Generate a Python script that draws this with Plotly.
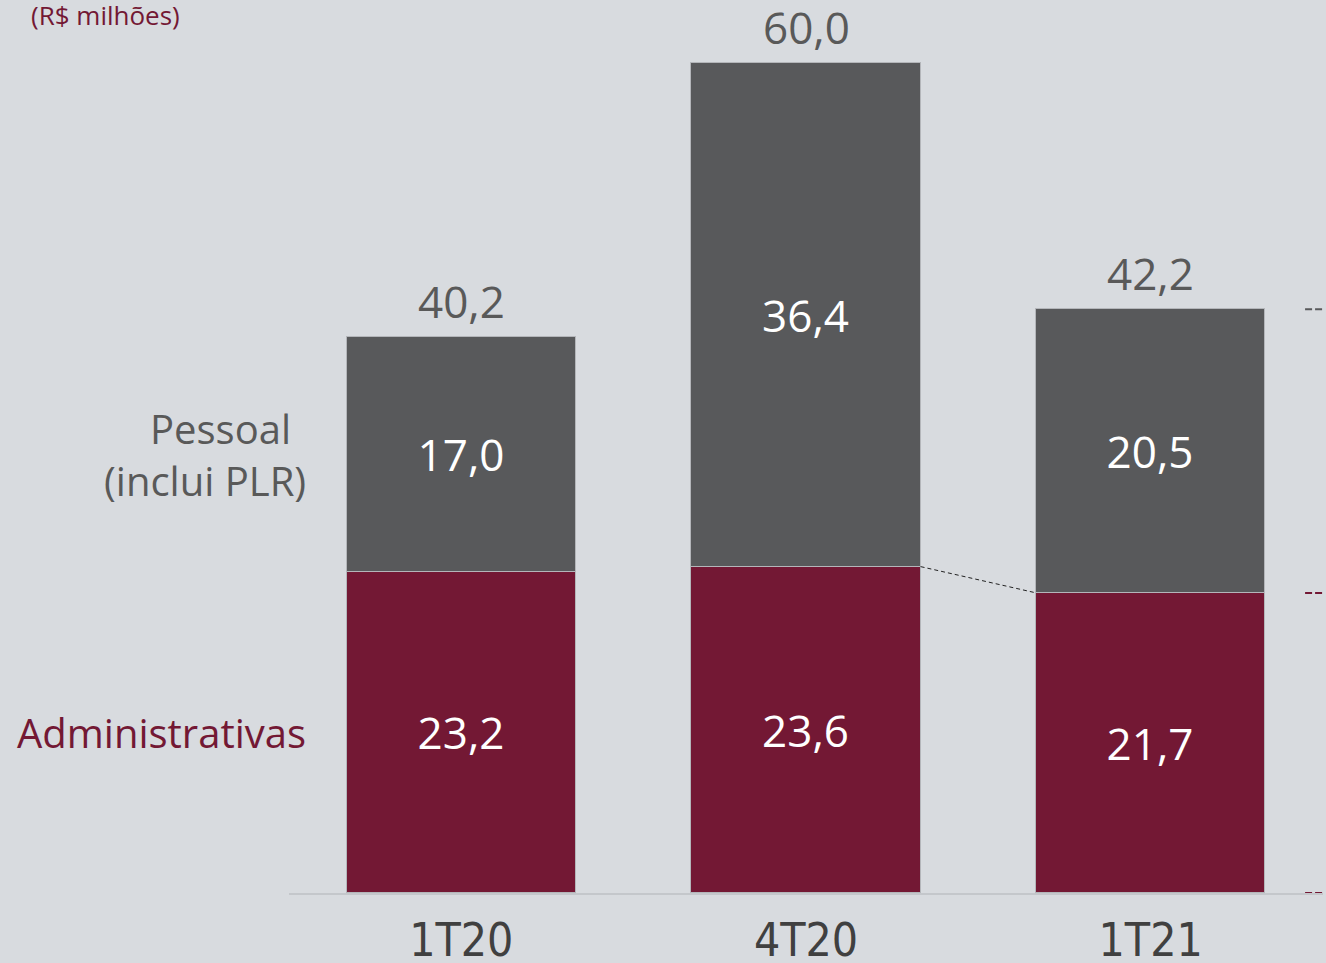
import plotly.graph_objects as go

categories = ["1T20", "4T20", "1T21"]
administrativas = [23.2, 23.6, 21.7]
pessoal = [17.0, 36.4, 20.5]
totals = [40.2, 60.0, 42.2]

def fmt(v):
    return f"{v:.1f}".replace(".", ",")

RED = "#731834"
GRAY = "#58595b"
BG = "#d8dbdf"
TXT = "#595959"
FONT = "Open Sans"

xs = list(range(len(categories)))
bw = 0.665

fig = go.Figure()
fig.add_trace(go.Bar(
    x=xs, y=administrativas, width=bw, marker=dict(color=RED, line=dict(color="#b4b6ba", width=1)),
    text=[fmt(v) for v in administrativas], textposition="inside", insidetextanchor="middle",
    textfont=dict(color="white", size=44, family=FONT), showlegend=False, cliponaxis=False))
fig.add_trace(go.Bar(
    x=xs, y=pessoal, width=bw, marker=dict(color=GRAY, line=dict(color="#b4b6ba", width=1)),
    text=[fmt(v) for v in pessoal], textposition="inside", insidetextanchor="middle",
    textfont=dict(color="white", size=44, family=FONT), showlegend=False, cliponaxis=False))

# connector between 4T20 and 1T21 Administrativas tops
fig.add_trace(go.Scatter(
    x=[xs[1] + bw / 2, xs[2] - bw / 2], y=[administrativas[1], administrativas[2]],
    mode="lines", line=dict(color="#222222", width=1, dash="4px,3px"), showlegend=False, hoverinfo="skip"))

# right-edge dashes at 1T21 levels
for yv, col in [(totals[2], GRAY), (administrativas[2], RED), (0, RED)]:
    fig.add_trace(go.Scatter(
        x=[xs[2] + 0.448, xs[2] + 0.51], y=[yv, yv], mode="lines",
        line=dict(color=col, width=2, dash="7px,3px"), showlegend=False, hoverinfo="skip", cliponaxis=False))

# totals above bars
for x, t in zip(xs, totals):
    fig.add_annotation(x=x, y=t, text=fmt(t), showarrow=False, yanchor="bottom", yshift=4,
                       font=dict(color=TXT, size=44, family=FONT))

# left series labels
ymid_p = administrativas[0] + pessoal[0] / 2
fig.add_annotation(x=-0.487, y=ymid_p, text="Pessoal", yshift=26,
                   showarrow=False, xanchor="right", yanchor="middle",
                   font=dict(color=TXT, size=40, family=FONT))
fig.add_annotation(x=-0.446, y=ymid_p, text="(inclui PLR)", yshift=-26,
                   showarrow=False, xanchor="right", yanchor="middle",
                   font=dict(color=TXT, size=40, family=FONT))
fig.add_annotation(x=-0.446, y=administrativas[0] / 2, text="Administrativas",
                   showarrow=False, xanchor="right", yanchor="middle",
                   font=dict(color=RED, size=40, family=FONT))
fig.add_annotation(xref="paper", yref="paper", x=-0.251, y=1.0, yshift=-15, text="(R$ milhões)", showarrow=False,
                   xanchor="left", yanchor="middle", font=dict(color=RED, size=26, family=FONT))

fig.update_layout(
    width=1326, height=963, barmode="stack", bargap=0,
    paper_bgcolor=BG, plot_bgcolor=BG,
    margin=dict(l=289, r=3, t=0, b=70),
    xaxis=dict(range=[-0.5, 2.5], tickvals=xs, ticktext=categories, showgrid=False, zeroline=False,
               showline=True, linecolor="#c4c7cb", linewidth=2, ticks="", ticklabelstandoff=6,
               automargin=False,
               tickfont=dict(family="DejaVu Sans Condensed, sans-serif", size=46, color="#404040")),
    yaxis=dict(range=[0, 893 / 13.83], visible=False, showgrid=False, zeroline=False, automargin=False),
)
fig.write_html("out.html", config={"displayModeBar": False},
               post_script="document.body.style.margin='0';document.body.style.overflow='hidden';")
